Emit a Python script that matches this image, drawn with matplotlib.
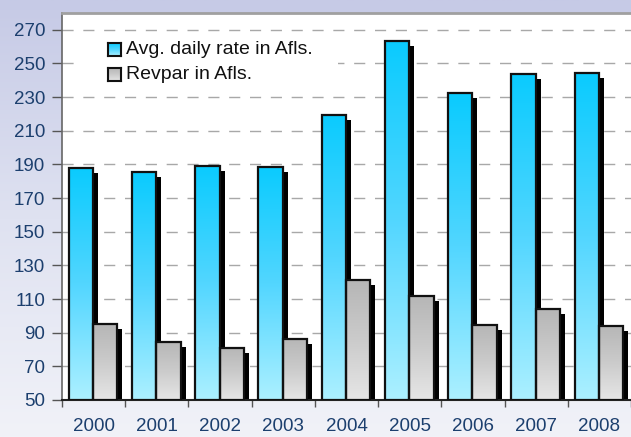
import numpy as np
import matplotlib
matplotlib.use("Agg")
import matplotlib.pyplot as plt
from matplotlib.patches import Rectangle
from matplotlib.colors import LinearSegmentedColormap
import matplotlib.transforms as mtransforms

plt.rcParams['font.family'] = ['Liberation Sans', 'DejaVu Sans']

years = ['2000', '2001', '2002', '2003', '2004', '2005', '2006', '2007', '2008']
adr = [188, 185.4, 189.3, 188.7, 219.4, 263.6, 232.3, 244, 244.6]
revpar = [95, 84.7, 81.1, 86.4, 121.3, 112, 94.4, 103.9, 94]
yticks = [50, 70, 90, 110, 130, 150, 170, 190, 210, 230, 250, 270]
labels = ['Avg. daily rate in Afls.', 'Revpar in Afls.']

W, H = 631, 437
fig = plt.figure(figsize=(W / 100, H / 100), dpi=100)

# background gradient
bg = fig.add_axes([0, 0, 1, 1], zorder=-10)
bg.axis('off')
bgcmap = LinearSegmentedColormap.from_list('bg', ['#c6cae6', '#dfe2f1', '#f1f2f8'])
bg.imshow(np.linspace(0, 1, 256).reshape(-1, 1), aspect='auto', cmap=bgcmap,
          extent=[0, 1, 0, 1])

ax = fig.add_axes([62 / W, (H - 400) / H, (W - 62) / W, 387 / H])
ax.set_facecolor('white')

blue_cmap = LinearSegmentedColormap.from_list('b', ['#0acbfe', '#52d6ff', '#acf0ff'])
gray_cmap = LinearSegmentedColormap.from_list('g', ['#b6b6b6', '#cbcbcb', '#e6e6e6'])

x = np.arange(len(years))
bw = 0.385
shadow_tr = ax.transData + mtransforms.ScaledTranslation(5 / 100, -5 / 100, fig.dpi_scale_trans)
grad = np.linspace(0, 1, 256).reshape(-1, 1)

series = [(adr, -0.2, blue_cmap), (revpar, 0.185, gray_cmap)]
# shadows
for vals, off, cm in series:
    for xi, v in zip(x, vals):
        r = Rectangle((xi + off - bw / 2, 50), bw, v - 50, facecolor='black',
                      edgecolor='none', transform=shadow_tr, zorder=2)
        ax.add_patch(r)
# bars
for vals, off, cm in series:
    for xi, v in zip(x, vals):
        x0 = xi + off - bw / 2
        r = Rectangle((x0, 50), bw, v - 50, facecolor='none', edgecolor='#111111',
                      linewidth=1.6, zorder=4)
        ax.add_patch(r)
        im = ax.imshow(grad, aspect='auto', cmap=cm, extent=[x0, x0 + bw, 50, v],
                       zorder=3, interpolation='bilinear')
        im.set_clip_path(r)
ax.set_xlim(-0.5, 8.425)
ax.set_ylim(50, 280)

# grid
ax.set_yticks(yticks)
for t in yticks[1:]:
    ax.axhline(t, color='#a8a8a8', linewidth=1.0, dashes=(8, 7), zorder=1)

ax.set_xticks(x)
ax.set_xticklabels(years)
ax.set_xticks(np.arange(-0.5, 9, 1), minor=True)
ax.tick_params(axis='x', which='major', length=0, pad=13, labelsize=13.5, labelcolor='#1c3f6e')
ax.tick_params(axis='x', which='minor', length=5, color='#555555', width=1)
ax.tick_params(axis='y', length=7, color='#555555', width=1, pad=5, labelsize=13.5,
               labelcolor='#1c3f6e')

ax.spines['right'].set_visible(False)
ax.spines['top'].set_color('#a0a0a0')
ax.spines['top'].set_linewidth(2)
ax.spines['left'].set_color('#666666')
ax.spines['left'].set_linewidth(1.2)
ax.spines['bottom'].set_color('#222222')
ax.spines['bottom'].set_linewidth(1.5)

# manual legend (pixel coordinates from top-left)
def fig_box(px, py, pw, ph):
    return [px / W, 1 - (py + ph) / H, pw / W, ph / H]

pix = mtransforms.Affine2D().scale(1 / W, -1 / H).translate(0, 1) + fig.transFigure
fig.patches.append(Rectangle((83, 36), 255, 54, transform=pix, facecolor='white',
                             edgecolor='none', zorder=5))
for i, (lab, cm) in enumerate(zip(labels, [blue_cmap, gray_cmap])):
    top = 43 + 25 * i
    lax = fig.add_axes(fig_box(108, top, 13, 13), zorder=6)
    lax.imshow(grad, aspect='auto', cmap=cm, extent=[0, 1, 0, 1])
    lax.set_xticks([]); lax.set_yticks([])
    for s in lax.spines.values():
        s.set_linewidth(1.5); s.set_color('#111111')
    fig.text(126 / W, 1 - (top + 6.5) / H, lab, fontsize=14, color='#111111',
             va='center', ha='left', zorder=7)

fig.savefig('out.png', dpi=100)
